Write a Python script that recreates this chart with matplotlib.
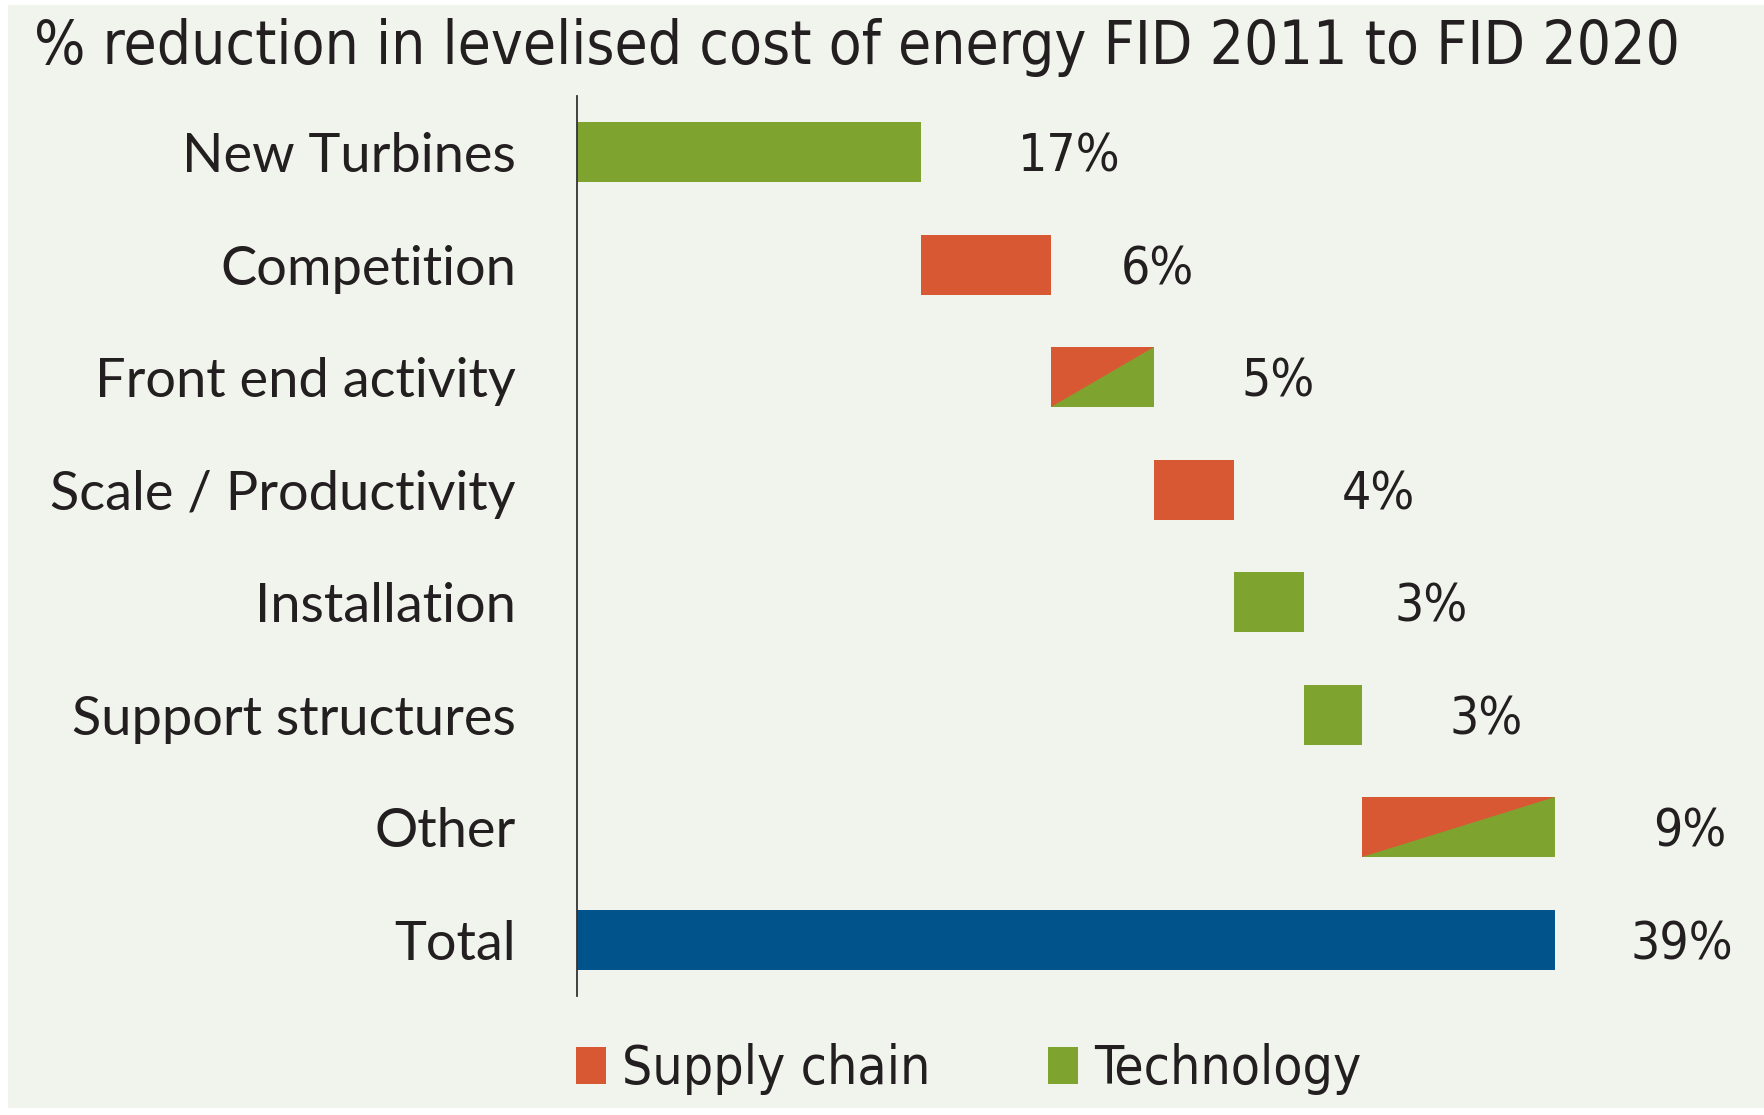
import matplotlib
matplotlib.use("Agg")
import matplotlib.pyplot as plt
from matplotlib.patches import Patch, Polygon, Rectangle
from matplotlib.font_manager import FontProperties

# Data
categories = ["New Turbines", "Competition", "Front end activity", "Scale / Productivity",
              "Installation", "Support structures", "Other", "Total"]
reductions = [13.7, 5.2, 4.1, 3.2, 2.8, 2.3, 7.7]
total = 39.0
labels = ["17%", "6%", "5%", "4%", "3%", "3%", "9%", "39%"]
kinds = ["tech", "supply", "both", "supply", "tech", "tech", "both", "total"]

# label offsets from the bar end (in % units), placed by hand in the original
label_offsets = [3.9, 2.8, 3.5, 4.3, 3.6, 3.5, 3.9, 3.0]

SUPPLY = "#d95834"
TECH = "#7ea32f"
TOTAL = "#00538b"
BG = "#f1f3ed"
TEXT = "#231f20"

LABEL_FONT = ["Lato", "DejaVu Sans"]


def narrow(size):
    return FontProperties(family="DejaVu Sans", stretch="condensed", size=size)


fig = plt.figure(figsize=(17.64, 11.15), dpi=100)
fig.patch.set_facecolor("white")
fig.add_artist(Rectangle((8 / 1764, 7 / 1115), 1 - 8 / 1764, 1 - 12 / 1115,
                         transform=fig.transFigure, facecolor=BG, edgecolor="none", zorder=-10))

ax = fig.add_axes([577 / 1764, 119 / 1115, 978 / 1764, 900 / 1115])
ax.set_facecolor("none")

# waterfall: each step starts where the previous one ended
lefts = []
widths = []
acc = 0.0
for r in reductions:
    lefts.append(acc)
    widths.append(r)
    acc += r
lefts.append(0.0)
widths.append(total)

h = 0.53
for i, (left, w, kind) in enumerate(zip(lefts, widths, kinds)):
    if kind == "total":
        color = TOTAL
    elif kind == "tech":
        color = TECH
    else:
        color = SUPPLY
    ax.barh(i, w, left=left, height=h, color=color, edgecolor="none")
    if kind == "both":
        # lower-right half of the bar is technology
        tri = Polygon([(left + w, i - h / 2), (left + w, i + h / 2), (left, i + h / 2)],
                      closed=True, facecolor=TECH, edgecolor="none")
        ax.add_patch(tri)
    ax.text(left + w + label_offsets[i], i + 0.05, labels[i], ha="left", va="center",
            color=TEXT, fontproperties=narrow(37), clip_on=False)

ax.set_xlim(0, total)
ax.set_ylim(len(categories) - 0.5, -0.5)
ax.set_yticks(range(len(categories)))
ax.set_yticklabels(categories, fontsize=39, color=TEXT, family=LABEL_FONT)
ax.tick_params(axis="y", length=0, pad=44)
ax.set_xticks([])
for side in ["top", "right", "bottom"]:
    ax.spines[side].set_visible(False)
ax.spines["left"].set_color("#333333")
ax.spines["left"].set_linewidth(1.3)

fig.text(34 / 1764, 1051 / 1115, "% reduction in levelised cost of energy FID 2011 to FID 2020",
         ha="left", va="baseline", color=TEXT, fontproperties=narrow(43.3))

handles = [Patch(facecolor=SUPPLY, edgecolor="none"), Patch(facecolor=TECH, edgecolor="none")]
leg = fig.legend(handles, ["Supply chain", "Technology"], loc="center left",
                 bbox_to_anchor=(528 / 1764, 1 - 1069 / 1115), ncol=2, frameon=False,
                 prop=narrow(38.3), handlelength=0.57, handleheight=0.7,
                 handletextpad=0.3, columnspacing=2.2, labelcolor=TEXT)

fig.savefig("out.png", dpi=100, facecolor=fig.get_facecolor())
